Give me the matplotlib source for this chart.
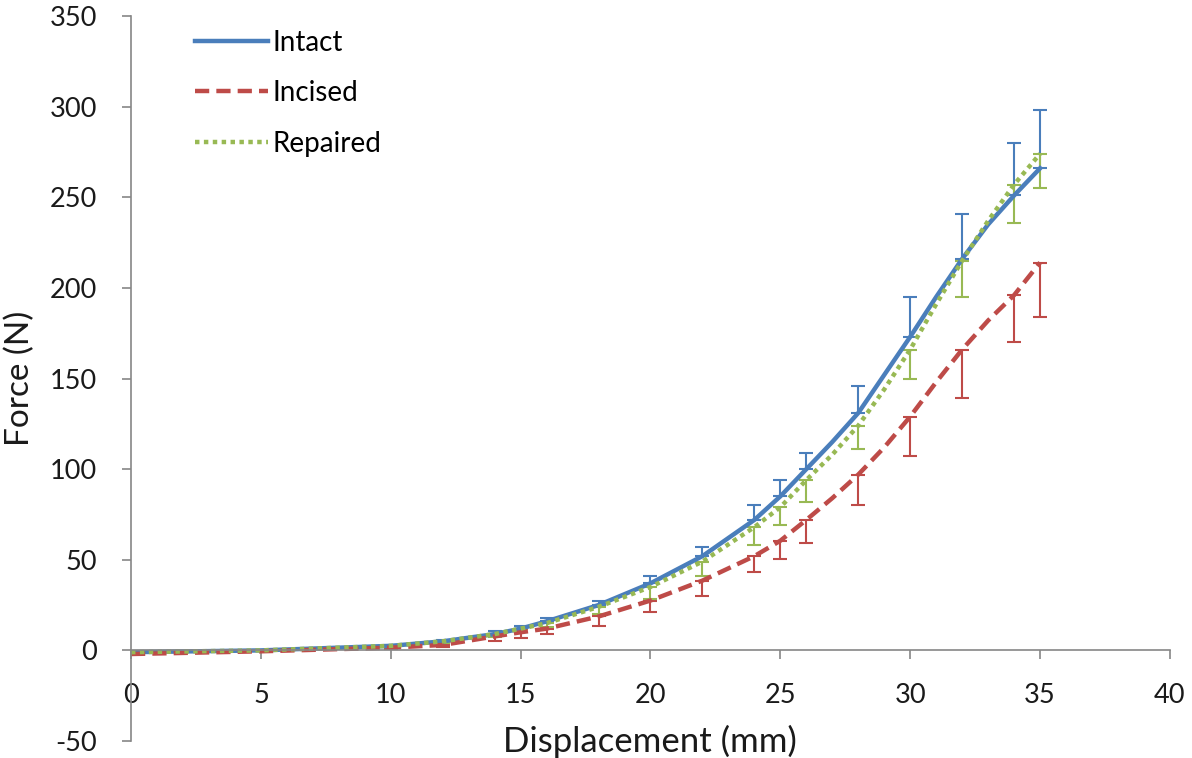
import matplotlib.pyplot as plt

plt.rcParams['font.family'] = ['Lato', 'DejaVu Sans']
plt.rcParams['axes.unicode_minus'] = False

# Displacement (mm) for the curves
disp = [0, 5, 10, 12, 14, 15, 16, 18, 20, 22, 24, 25, 26, 27, 28, 29, 30, 31, 32, 33, 34, 35]

intact = [-1, 0, 2.5, 5, 9, 12, 16, 25, 37, 52, 72, 85, 100, 115, 131, 152, 173, 195, 216, 235, 251, 266]
incised = [-2, -0.5, 1.5, 3, 7.7, 10, 12, 18.7, 27.5, 38.5, 52, 60.5, 72, 84, 97, 112, 129, 148, 166, 182, 196, 214]
repaired = [-1, 0, 2.5, 5, 9, 12, 15, 24, 35, 49, 68, 79, 94, 108, 124, 144, 166, 191, 215, 237, 257, 274]

# Displacement (mm) where error bars are shown, with the mean there
err_disp = [10, 12, 14, 15, 16, 18, 20, 22, 24, 25, 26, 28, 30, 32, 34, 35]
intact_at = [2.5, 5, 9, 12, 16, 25, 37, 52, 72, 85, 100, 131, 173, 216, 251, 266]
incised_at = [1.5, 3, 7.7, 10, 12, 18.7, 27.5, 38.5, 52, 60.5, 72, 97, 129, 166, 196, 214]
repaired_at = [2.5, 5, 9, 12, 15, 24, 35, 49, 68, 79, 94, 124, 166, 215, 257, 274]

# one-sided errors (N)
intact_err = [0.5, 1, 1.5, 1.5, 2, 2, 4, 5, 8, 9, 9, 15, 22, 25, 29, 32]
incised_err = [0.5, 1, 2.5, 3, 3, 5.5, 6.5, 8.5, 9, 10, 13, 17, 22, 27, 26, 30]
repaired_err = [0.5, 1, 1.5, 2, 2, 4, 6.5, 8, 10, 10, 12, 13, 16, 20, 21, 19]

blue = '#4A7EBB'
red = '#BE4B48'
green = '#98B954'
zeros = [0] * len(err_disp)

fig = plt.figure(figsize=(11.92, 7.58), dpi=100)
ax = fig.add_axes([0.1099, 0.0224, 0.8716, 0.9565])

# error bars: intact upward, incised / repaired downward
ax.errorbar(err_disp, intact_at, yerr=[zeros, intact_err], fmt='none', ecolor=blue,
            elinewidth=1.5, capsize=5, capthick=1.5)
ax.errorbar(err_disp, incised_at, yerr=[incised_err, zeros], fmt='none', ecolor=red,
            elinewidth=1.5, capsize=5, capthick=1.5)
ax.errorbar(err_disp, repaired_at, yerr=[repaired_err, zeros], fmt='none', ecolor=green,
            elinewidth=1.5, capsize=5, capthick=1.5)

ax.plot(disp, intact, color=blue, lw=3.2, label='Intact')
ax.plot(disp, incised, color=red, lw=3.2, linestyle=(0, (3.2, 1.6)), label='Incised')
ax.plot(disp, repaired, color=green, lw=3.2, linestyle=(0, (1, 1)), label='Repaired')

ax.set_xlim(0, 40)
ax.set_ylim(-50, 350)
ax.set_xticks(range(0, 41, 5))
ax.set_yticks(range(-50, 351, 50))

ax.spines['top'].set_visible(False)
ax.spines['right'].set_visible(False)
ax.spines['bottom'].set_position(('data', 0))
for s in ('left', 'bottom'):
    ax.spines[s].set_color('#868686')
    ax.spines[s].set_linewidth(1.2)
ax.tick_params(axis='both', direction='out', length=6.5, width=1.2, color='#868686',
               labelsize=19.5, labelcolor='#1a1a1a')
ax.tick_params(axis='x', pad=17)
ax.tick_params(axis='y', pad=18)

ax.set_ylabel('Force (N)', fontsize=24, color='#1a1a1a', va='center', ha='center')
ax.set_xlabel('Displacement (mm)', fontsize=25, color='#1a1a1a')
ax.xaxis.set_label_coords(0.4995, -0.001)
ax.xaxis.label.set_va('center')
ax.yaxis.set_label_coords(-0.107, 0.5)

ax.legend(loc='upper left', bbox_to_anchor=(0.0616, 0.981), frameon=False, fontsize=20,
          handlelength=2.63, handletextpad=0.15, labelspacing=0.88,
          borderpad=0, borderaxespad=0)

fig.savefig('out.png', dpi=100)
